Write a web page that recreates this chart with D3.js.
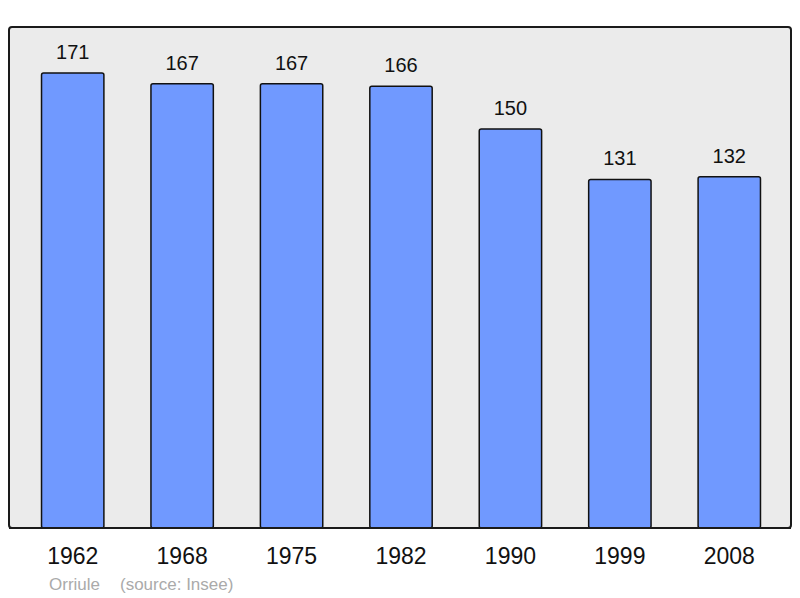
<!DOCTYPE html>
<html>
<head>
<meta charset="utf-8">
<script src="https://d3js.org/d3.v7.min.js"></script>
<style>
  body { margin: 0; background: #fff; }
  text { font-family: "Liberation Sans", Arial, sans-serif; }
</style>
</head>
<body>
<div id="chart"></div>
<script>
let years = ["1962", "1968", "1975", "1982", "1990", "1999", "2008"];
let population = [171, 167, 167, 166, 150, 131, 132];
let commune = "Orriule";
let source = "(source: Insee)";

let width = 800, height = 598;
let panel = {left: 9, top: 27, right: 791, bottom: 528};

let svg = d3.select("#chart")
    .append("svg")
    .attr("width", width)
    .attr("height", height);

svg.append("rect")
    .attr("x", panel.left)
    .attr("y", panel.top)
    .attr("width", panel.right - panel.left)
    .attr("height", panel.bottom - panel.top)
    .attr("rx", 3)
    .attr("fill", "#ebebeb")
    .attr("stroke", "#1a1a1a")
    .attr("stroke-width", 2);

let x = d3.scaleBand()
    .domain(years)
    .range([18, 784])
    .paddingInner(0.43)
    .paddingOuter(0.215);

let y = d3.scaleLinear()
    .domain([0, 171])
    .range([panel.bottom, 73]);

let data = years.map((d, i) => ({year: d, value: population[i]}));

svg.selectAll("rect.bar")
    .data(data)
    .enter()
    .append("rect")
    .attr("class", "bar")
    .attr("x", d => x(d.year))
    .attr("y", d => y(d.value))
    .attr("width", x.bandwidth())
    .attr("height", d => panel.bottom - y(d.value))
    .attr("rx", 2)
    .attr("fill", "#7099ff")
    .attr("stroke", "#111")
    .attr("stroke-width", 1.5);

// redraw frame bottom over bar ends
svg.append("line")
    .attr("x1", panel.left)
    .attr("x2", panel.right)
    .attr("y1", panel.bottom)
    .attr("y2", panel.bottom)
    .attr("stroke", "#1a1a1a")
    .attr("stroke-width", 2);

svg.selectAll("text.value")
    .data(data)
    .enter()
    .append("text")
    .attr("class", "value")
    .attr("x", d => x(d.year) + x.bandwidth() / 2)
    .attr("y", d => y(d.value) - 14)
    .attr("text-anchor", "middle")
    .attr("font-size", 20)
    .attr("fill", "#111")
    .text(d => d.value);

let xAxis = d3.axisBottom(x).tickSize(0).tickPadding(0);
let gx = svg.append("g")
    .attr("transform", "translate(0," + panel.bottom + ")")
    .call(xAxis);
gx.select(".domain").remove();
gx.selectAll("text")
    .attr("dy", null)
    .attr("y", 36)
    .attr("font-size", 23)
    .attr("font-family", "Liberation Sans, Arial, sans-serif")
    .attr("fill", "#111");

svg.append("text")
    .attr("x", 49)
    .attr("y", 590)
    .attr("font-size", 17)
    .attr("fill", "#aaaaaa")
    .text(commune);

svg.append("text")
    .attr("x", 120)
    .attr("y", 590)
    .attr("font-size", 17)
    .attr("fill", "#aaaaaa")
    .text(source);
</script>
</body>
</html>
